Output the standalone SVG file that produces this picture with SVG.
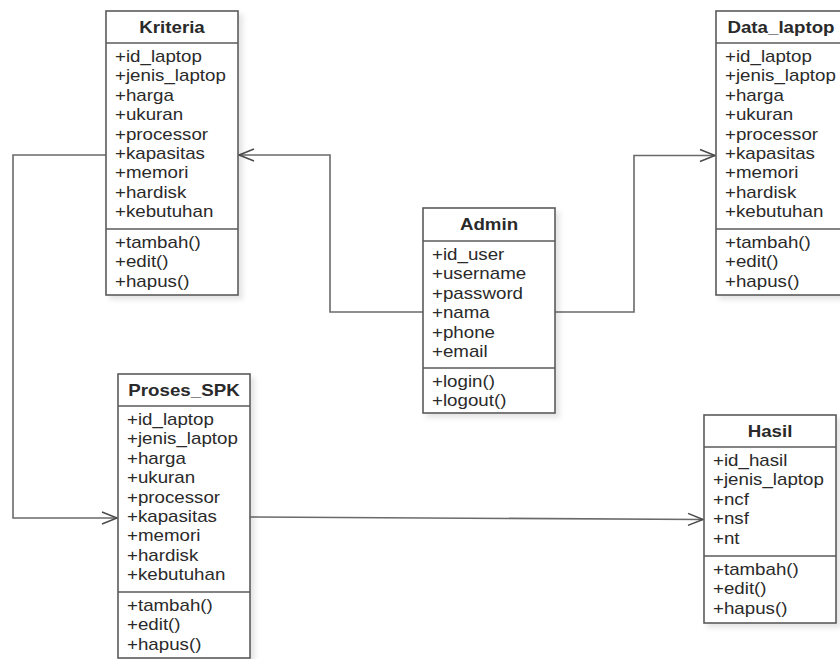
<svg xmlns="http://www.w3.org/2000/svg" width="840" height="659" viewBox="0 0 840 659">
<defs>
<style>
.box{fill:#ffffff;stroke:#5a5a5a;stroke-width:1.6}
.sep{stroke:#5a5a5a;stroke-width:1.6}
.t{font-family:"Liberation Sans",Arial,sans-serif;font-size:16px;fill:#2a2a2a}
.h{font-family:"Liberation Sans",Arial,sans-serif;font-size:16px;font-weight:bold;fill:#2a2a2a;text-anchor:middle}
.c{fill:none;stroke:#6a6a6a;stroke-width:1.6}
</style>
<filter id="sh" x="-10%" y="-10%" width="130%" height="130%">
<feDropShadow dx="4" dy="4" stdDeviation="2.5" flood-color="#000" flood-opacity="0.1"/>
</filter>
<marker id="arr" markerUnits="userSpaceOnUse" viewBox="-16 -8 18 16" markerWidth="18" markerHeight="16" refX="0" refY="0" orient="auto">
<path d="M-15,-6 L0,0 L-15,6" fill="none" stroke="#4a4a4a" stroke-width="1.5"/>
</marker>
</defs>
<rect width="840" height="659" fill="#ffffff"/>

<g id="connectors">
<path class="c" d="M423,312 H330 V155 H239" marker-end="url(#arr)"/>
<path class="c" d="M555,312 H634 V155.5 H715" marker-end="url(#arr)"/>
<path class="c" d="M106,155 H13 V518 H117" marker-end="url(#arr)"/>
<path class="c" d="M250,517 L703,519.5" marker-end="url(#arr)"/>
</g>

<g id="kriteria">
<rect class="box" x="106" y="11" width="132" height="284" filter="url(#sh)"/>
<line class="sep" x1="106" y1="43" x2="238" y2="43"/>
<line class="sep" x1="106" y1="229" x2="238" y2="229"/>
<g transform="translate(172 0) scale(1.17 1)"><text class="h" x="0" y="33">Kriteria</text></g>
<g transform="translate(115 0) scale(1.17 1)">
<text class="t" x="0" y="62">+id_laptop</text>
<text class="t" x="0" y="81.4">+jenis_laptop</text>
<text class="t" x="0" y="100.8">+harga</text>
<text class="t" x="0" y="120.2">+ukuran</text>
<text class="t" x="0" y="139.6">+processor</text>
<text class="t" x="0" y="159">+kapasitas</text>
<text class="t" x="0" y="178.4">+memori</text>
<text class="t" x="0" y="197.8">+hardisk</text>
<text class="t" x="0" y="217.2">+kebutuhan</text>
<text class="t" x="0" y="248">+tambah()</text>
<text class="t" x="0" y="267.4">+edit()</text>
<text class="t" x="0" y="286.8">+hapus()</text>
</g>
</g>

<g id="data_laptop">
<rect class="box" x="716" y="11" width="132" height="284" filter="url(#sh)"/>
<line class="sep" x1="716" y1="43" x2="848" y2="43"/>
<line class="sep" x1="716" y1="229" x2="848" y2="229"/>
<g transform="translate(781 0) scale(1.17 1)"><text class="h" x="0" y="33">Data_laptop</text></g>
<g transform="translate(725 0) scale(1.17 1)">
<text class="t" x="0" y="62">+id_laptop</text>
<text class="t" x="0" y="81.4">+jenis_laptop</text>
<text class="t" x="0" y="100.8">+harga</text>
<text class="t" x="0" y="120.2">+ukuran</text>
<text class="t" x="0" y="139.6">+processor</text>
<text class="t" x="0" y="159">+kapasitas</text>
<text class="t" x="0" y="178.4">+memori</text>
<text class="t" x="0" y="197.8">+hardisk</text>
<text class="t" x="0" y="217.2">+kebutuhan</text>
<text class="t" x="0" y="248">+tambah()</text>
<text class="t" x="0" y="267.4">+edit()</text>
<text class="t" x="0" y="286.8">+hapus()</text>
</g>
</g>

<g id="admin">
<rect class="box" x="423" y="208" width="132" height="205" filter="url(#sh)"/>
<line class="sep" x1="423" y1="241" x2="555" y2="241"/>
<line class="sep" x1="423" y1="368" x2="555" y2="368"/>
<g transform="translate(489 0) scale(1.17 1)"><text class="h" x="0" y="230">Admin</text></g>
<g transform="translate(432 0) scale(1.17 1)">
<text class="t" x="0" y="260">+id_user</text>
<text class="t" x="0" y="279.4">+username</text>
<text class="t" x="0" y="298.8">+password</text>
<text class="t" x="0" y="318.2">+nama</text>
<text class="t" x="0" y="337.6">+phone</text>
<text class="t" x="0" y="357">+email</text>
<text class="t" x="0" y="387">+login()</text>
<text class="t" x="0" y="406.4">+logout()</text>
</g>
</g>

<g id="proses_spk">
<rect class="box" x="118" y="374" width="132" height="284" filter="url(#sh)"/>
<line class="sep" x1="118" y1="406" x2="250" y2="406"/>
<line class="sep" x1="118" y1="592" x2="250" y2="592"/>
<g transform="translate(184 0) scale(1.17 1)"><text class="h" x="0" y="396">Proses_SPK</text></g>
<g transform="translate(127 0) scale(1.17 1)">
<text class="t" x="0" y="425">+id_laptop</text>
<text class="t" x="0" y="444.4">+jenis_laptop</text>
<text class="t" x="0" y="463.8">+harga</text>
<text class="t" x="0" y="483.2">+ukuran</text>
<text class="t" x="0" y="502.6">+processor</text>
<text class="t" x="0" y="522">+kapasitas</text>
<text class="t" x="0" y="541.4">+memori</text>
<text class="t" x="0" y="560.8">+hardisk</text>
<text class="t" x="0" y="580.2">+kebutuhan</text>
<text class="t" x="0" y="611">+tambah()</text>
<text class="t" x="0" y="630.4">+edit()</text>
<text class="t" x="0" y="649.8">+hapus()</text>
</g>
</g>

<g id="hasil">
<rect class="box" x="704" y="415" width="132" height="208" filter="url(#sh)"/>
<line class="sep" x1="704" y1="447" x2="836" y2="447"/>
<line class="sep" x1="704" y1="556" x2="836" y2="556"/>
<g transform="translate(770 0) scale(1.17 1)"><text class="h" x="0" y="437">Hasil</text></g>
<g transform="translate(713 0) scale(1.17 1)">
<text class="t" x="0" y="466">+id_hasil</text>
<text class="t" x="0" y="485.4">+jenis_laptop</text>
<text class="t" x="0" y="504.8">+ncf</text>
<text class="t" x="0" y="524.2">+nsf</text>
<text class="t" x="0" y="543.6">+nt</text>
<text class="t" x="0" y="575">+tambah()</text>
<text class="t" x="0" y="594.4">+edit()</text>
<text class="t" x="0" y="613.8">+hapus()</text>
</g>
</g>
</svg>
